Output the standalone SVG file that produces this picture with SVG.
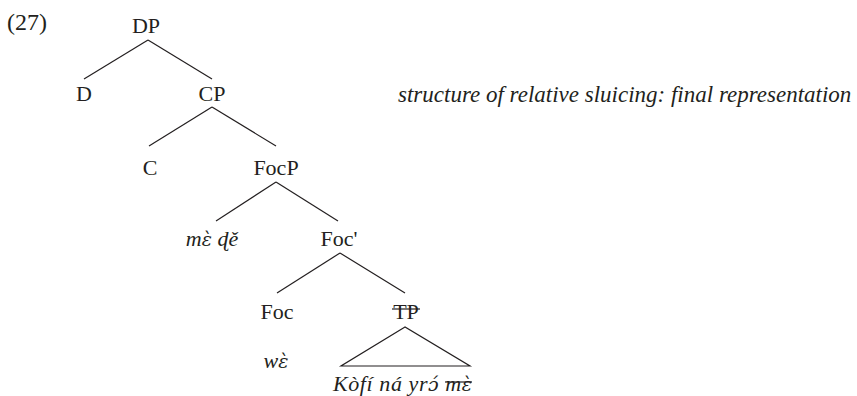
<svg xmlns="http://www.w3.org/2000/svg" width="857" height="396" viewBox="0 0 857 396">
<style>
text{font-family:"Liberation Serif","DejaVu Serif",serif;font-size:22px;fill:#231f20;text-anchor:middle}
.it{font-style:italic}
.st{text-anchor:start}
.dv{font-family:"DejaVu Serif",serif;font-size:19px}
.e line,.e polygon{stroke:#231f20;stroke-width:1.2;fill:none}
.sk{stroke:#231f20;stroke-width:1.2}
</style>
<rect width="857" height="396" fill="#fff"/>
<text class="st" x="7" y="30" style="font-size:24px">(27)</text>
<g id="DP"><text x="146" y="33">DP</text></g>
<g id="D"><text x="84" y="101">D</text></g>
<g id="CP"><text x="212" y="101">CP</text></g>
<g id="C"><text x="150" y="175">C</text></g>
<g id="FocP"><text x="276" y="175">FocP</text></g>
<g id="mede"><text class="it" x="212" y="246">m<tspan class="dv">ɛ̀</tspan> ɖě</text></g>
<g id="FocBar"><text x="339" y="246">Foc'</text></g>
<g id="Foc"><text x="277" y="319">Foc</text></g>
<g id="TP"><text x="406" y="319">TP</text><line class="sk" x1="392" y1="309" x2="420" y2="309"/></g>
<g id="we"><text class="it" x="276" y="368">w<tspan class="dv">ɛ̀</tspan></text></g>
<g id="kofi"><text class="it st" x="333" y="391" textLength="139">Kòfí ná yr<tspan class="dv">ɔ́</tspan> m<tspan class="dv">ɛ̀</tspan></text><line class="sk" x1="445" y1="382" x2="472" y2="382"/></g>
<g id="caption"><text class="it st" x="398" y="102" style="font-size:23px">structure of relative sluicing: final representation</text></g>
<g id="connectors" class="e">
<line x1="148" y1="40" x2="84" y2="79"/>
<line x1="148" y1="40" x2="212" y2="79"/>
<line x1="212" y1="107" x2="149" y2="146"/>
<line x1="212" y1="107" x2="276" y2="146"/>
<line x1="276" y1="182" x2="216" y2="221"/>
<line x1="276" y1="182" x2="338" y2="221"/>
<line x1="340" y1="253" x2="277" y2="293"/>
<line x1="340" y1="253" x2="405" y2="293"/>
<polygon points="405,327 341,366 470,366"/>
</g>
</svg>
